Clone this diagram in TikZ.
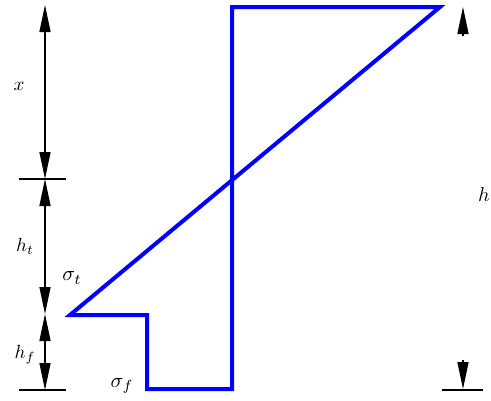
\documentclass[tikz,border=0pt]{standalone}
\usepackage{graphicx}
\usetikzlibrary{arrows.meta}
\begin{document}
\begin{tikzpicture}[x=1pt,y=-1pt,
  dim/.style={line width=1.3pt,{Triangle[length=27pt,width=11pt]}-{Triangle[length=27pt,width=11pt]}},
  tip/.style={line width=1.3pt,-{Triangle[length=27pt,width=11pt]}},
  tick/.style={line width=1.3pt},
  stress/.style={draw=blue,line width=4pt,line join=miter},
  lab/.style={inner sep=0pt}]
\useasboundingbox (0,0) rectangle (491,400);
% left dimension chain
\coordinate (a0) at (45,5);
\coordinate (a1) at (45,179);
\coordinate (a2) at (45,314);
\coordinate (a3) at (45,390);
\draw[dim] (a0) -- (a1);
\draw[dim] (a1) -- (a2);
\draw[dim] (a2) -- (a3);
\coordinate (t1l) at (19,179); \coordinate (t1r) at (66,179);
\draw[tick] (t1l) -- (t1r);
\coordinate (t3l) at (19,390); \coordinate (t3r) at (66,390);
\draw[tick] (t3l) -- (t3r);
% right dimension
\coordinate (r0) at (463,7);
\coordinate (r0b) at (463,36);
\coordinate (r3) at (463,389);
\coordinate (r3b) at (463,360);
\draw[tip] (r0b) -- (r0);
\draw[tip] (r3b) -- (r3);
\coordinate (t4l) at (442,390); \coordinate (t4r) at (483,390);
\draw[tick] (t4l) -- (t4r);
% stress diagram
\coordinate (p1) at (232,7);
\coordinate (p2) at (440,7);
\coordinate (p3) at (70,315);
\coordinate (p4) at (147,315);
\coordinate (p5) at (147,389);
\coordinate (p6) at (232,389);
\draw[stress] (p1) -- (p2) -- (p3) -- (p4) -- (p5) -- (p6) -- cycle;
% labels
\node[lab] (lx) at (19,86) {\scalebox{1.9}{$x$}};
\node[lab] (lht) at (25,246) {\scalebox{1.9}{$h_t$}};
\node[lab] (lhf) at (25,355) {\scalebox{1.9}{$h_f$}};
\node[lab] (lst) at (72,278) {\scalebox{2.1}{$\sigma_t$}};
\node[lab] (lsf) at (122,386) {\scalebox{2.1}{$\sigma_f$}};
\node[lab,anchor=west] (lh) at (478,195) {\scalebox{2}{$h$}};
\end{tikzpicture}
\end{document}
